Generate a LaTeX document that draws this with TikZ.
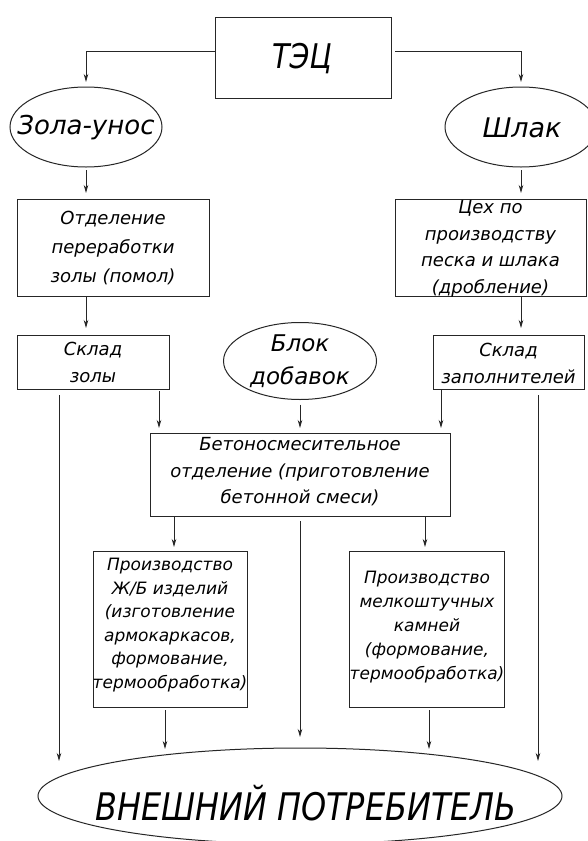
\documentclass[tikz,border=0pt]{standalone}
\usepackage{fontspec}
\setmainfont{DejaVu Sans}
\newfontfamily\narrowfont{DejaVu Sans}[FakeStretch=0.84]
\usetikzlibrary{shapes.geometric,arrows.meta}
\begin{document}
\begin{tikzpicture}[x=1pt,y=-1pt,
  box/.style={draw=black!85,line width=1pt,rectangle,inner sep=0pt,outer sep=0pt},
  oval/.style={draw=black!85,line width=1pt,ellipse,inner sep=0pt,outer sep=0pt},
  txt/.style={inner sep=0pt,align=center,font=\itshape\fontsize{18}{27}\selectfont},
  arr/.style={draw=black!85,line width=0.8pt,-{Stealth[length=8pt,width=4.5pt,inset=2.5pt]}}]
\useasboundingbox[fill=white] (0,0) rectangle (587,841);
% nodes
\node[box,minimum width=176pt,minimum height=81pt] (tec) at (303,57.5) {};
\node[txt,font=\narrowfont\itshape\fontsize{34}{40}\selectfont] (tec-t) at (302,59) {ТЭЦ};
\node[oval,minimum width=152pt,minimum height=80pt] (zola) at (86,127) {};
\node[txt,font=\itshape\fontsize{26}{32}\selectfont] (zola-t) at (86,128) {Зола-унос};
\node[oval,minimum width=152pt,minimum height=80pt] (shlak) at (521,127) {};
\node[txt,font=\itshape\fontsize{27}{32}\selectfont] (shlak-t) at (522,128) {Шлак};
\node[box,minimum width=192pt,minimum height=97pt] (otd) at (113,247.5) {};
\node[txt,font=\itshape\fontsize{18}{29}\selectfont] (otd-t) at (113,248) {Отделение\\переработки\\золы (помол)};
\node[box,minimum width=191pt,minimum height=97pt] (tseh) at (490.5,247.5) {};
\node[txt,font=\itshape\fontsize{18}{26.5}\selectfont] (tseh-t) at (490.5,249) {Цех по\\производству\\песка и шлака\\(дробление)};
\node[box,minimum width=152pt,minimum height=54pt] (skz) at (93,362) {};
\node[txt] (skz-t) at (93,362) {Склад\\золы};
\node[oval,minimum width=153pt,minimum height=77pt] (blok) at (300,361) {};
\node[txt,font=\itshape\fontsize{23}{33}\selectfont] (blok-t) at (300,361) {Блок\\добавок};
\node[box,minimum width=151pt,minimum height=54pt] (skzap) at (508.5,362) {};
\node[txt] (skzap-t) at (508.5,363) {Склад\\заполнителей};
\node[box,minimum width=300pt,minimum height=83pt] (bet) at (300,474.5) {};
\node[txt,font=\itshape\fontsize{18}{26.5}\selectfont] (bet-t) at (300,472) {Бетоносмесительное\\отделение (приготовление\\бетонной смеси)};
\node[box,minimum width=154pt,minimum height=156pt] (zhb) at (170,629) {};
\node[txt,font=\itshape\fontsize{17}{23.5}\selectfont] (zhb-t) at (170,625) {Производство\\Ж/Б изделий\\(изготовление\\армокаркасов,\\формование,\\термообработка)};
\node[box,minimum width=155pt,minimum height=156pt] (melk) at (426.5,629) {};
\node[txt,font=\itshape\fontsize{17}{24}\selectfont] (melk-t) at (427,627) {Производство\\мелкоштучных\\камней\\(формование,\\термообработка)};
\node[oval,minimum width=524pt,minimum height=96pt] (vp) at (300,796) {};
\node[txt,font=\narrowfont\itshape\fontsize{38}{44}\selectfont] (vp-t) at (306,803) {ВНЕШНИЙ ПОТРЕБИТЕЛЬ};
% free ends at the consumer ellipse
\coordinate (vp1) at (59,761);
\coordinate (vp2) at (165,749);
\coordinate (vp4) at (429,749);
\coordinate (vp5) at (538,761);
% connectors
\draw[arr] ([yshift=6.5pt]tec.west) -| ([yshift=5pt]zola.north);
\draw[arr] ([xshift=4pt,yshift=6.5pt]tec.east) -| ([yshift=5pt]shlak.north);
\draw[arr] ([yshift=-3pt]zola.south) -- ([yshift=6pt]zola.south |- otd.north);
\draw[arr] ([yshift=-3pt]shlak.south) -- ([yshift=6pt]shlak.south |- tseh.north);
\draw[arr] (zola.south |- otd.south) -- ([yshift=7pt]zola.south |- skz.north);
\draw[arr] (shlak.south |- tseh.south) -- ([yshift=7pt]shlak.south |- skzap.north);
\draw[arr] ([xshift=-34pt,yshift=-6pt]skz.south) -- (vp1);
\draw[arr] ([xshift=66pt,yshift=-2pt]skz.south) -- ([xshift=9pt,yshift=5pt]bet.north west);
\draw[arr] ([yshift=-5pt]blok.south) -- ([yshift=5pt]blok.south |- bet.north);
\draw[arr] ([xshift=-67.5pt,yshift=-1pt]skzap.south) -- ([xshift=-9pt,yshift=5pt]bet.north east);
\draw[arr] ([xshift=29.5pt,yshift=-6pt]skzap.south) -- (vp5);
\draw[arr] ([xshift=24pt,yshift=-1pt]bet.south west) -- ([xshift=4pt,yshift=4pt]zhb.north);
\draw[arr] ([xshift=-25pt,yshift=-1pt]bet.south east) -- ([xshift=-1.5pt,yshift=4pt]melk.north);
\draw[arr] ([yshift=-5pt]bet.south) -- ([yshift=11pt]vp.north);
\draw[arr] ([xshift=-5pt,yshift=-3pt]zhb.south) -- (vp2);
\draw[arr] ([xshift=2.5pt,yshift=-3pt]melk.south) -- (vp4);
\end{tikzpicture}
\end{document}
